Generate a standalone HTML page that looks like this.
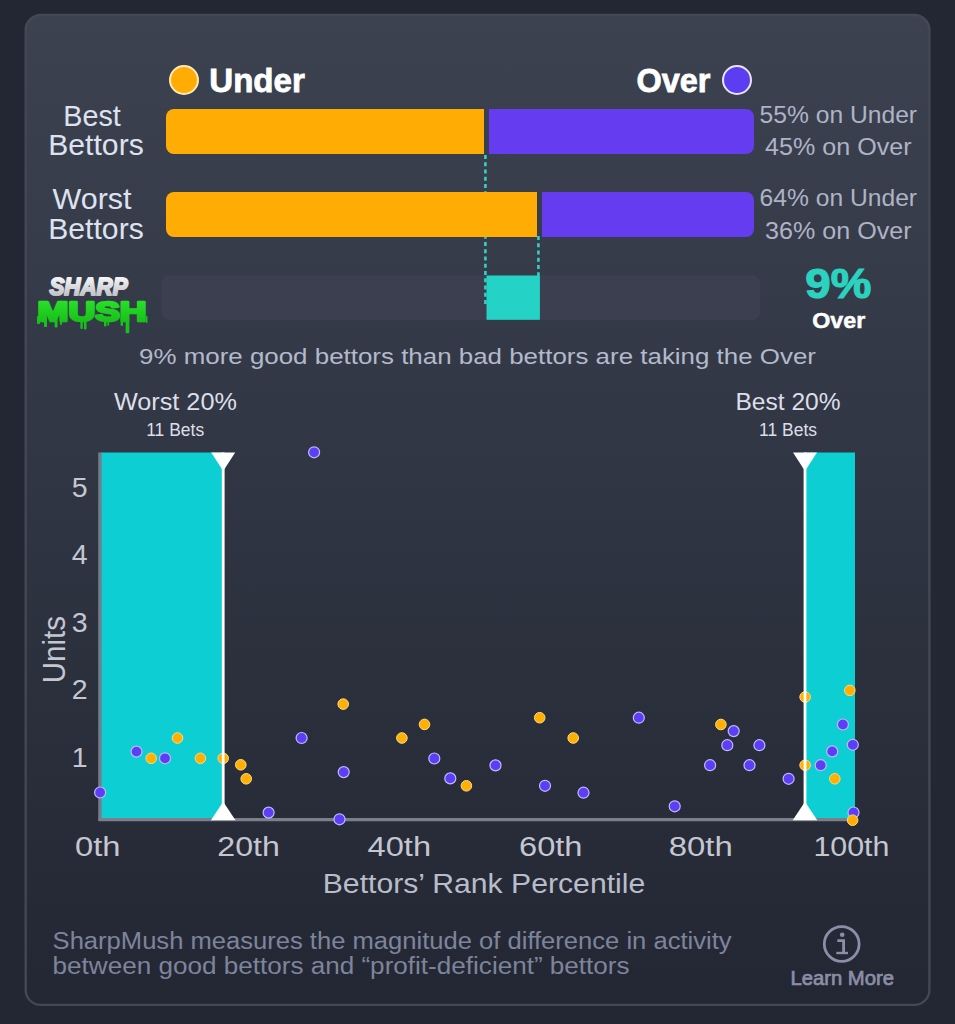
<!DOCTYPE html>
<html><head><meta charset="utf-8"><title>SharpMush</title>
<style>
html,body{margin:0;padding:0;background:#232733;width:955px;height:1024px;overflow:hidden;}
svg{display:block;font-family:"Liberation Sans",sans-serif;}
</style></head>
<body>
<svg width="955" height="1024" viewBox="0 0 955 1024">
<defs>
<linearGradient id="cardbg" x1="0" y1="0" x2="0" y2="1">
  <stop offset="0" stop-color="#3D4251"/>
  <stop offset="0.45" stop-color="#313644"/>
  <stop offset="1" stop-color="#232733"/>
</linearGradient>
<linearGradient id="silver" x1="0" y1="0" x2="0" y2="1">
  <stop offset="0" stop-color="#FFFFFF"/>
  <stop offset="1" stop-color="#B4B6BE"/>
</linearGradient>
<linearGradient id="green" x1="0" y1="0" x2="0" y2="1">
  <stop offset="0" stop-color="#2BE82B"/>
  <stop offset="1" stop-color="#16B818"/>
</linearGradient>
</defs>
<rect x="25.7" y="15" width="903.7" height="989.9" rx="15" ry="15" fill="url(#cardbg)" stroke="#434756" stroke-width="2.4"/>
<circle cx="184" cy="80" r="14" fill="#FFAD05" stroke="#FFEBB8" stroke-width="2"/>
<text x="209.3" y="92" font-size="33" fill="#FFFFFF" text-anchor="start" font-weight="bold" textLength="95.5" lengthAdjust="spacingAndGlyphs" stroke="#FFFFFF" stroke-width="0.8">Under</text>
<text x="710.5" y="92" font-size="33" fill="#FFFFFF" text-anchor="end" font-weight="bold" textLength="74" lengthAdjust="spacingAndGlyphs" stroke="#FFFFFF" stroke-width="0.8">Over</text>
<circle cx="737" cy="80" r="14" fill="#5C3DF2" stroke="#EAE4FF" stroke-width="2"/>
<rect x="161.2" y="275.3" width="599" height="44.6" rx="8" fill="#3B3F50"/>
<line x1="485.4" y1="155" x2="485.4" y2="304" stroke="#36D1BE" stroke-width="2.6" stroke-dasharray="4 3.25"/>
<line x1="538.4" y1="236" x2="538.4" y2="277" stroke="#36D1BE" stroke-width="2.6" stroke-dasharray="4 3.25"/>
<rect x="486.5" y="275.5" width="53.4" height="44.3" fill="#24D3C5"/>
<path d="M174,109 H484 V154 H174 A8,8 0 0 1 166,146 V117 A8,8 0 0 1 174,109 Z" fill="#FFAD05"/><path d="M489,109 H746 A8,8 0 0 1 754,117 V146 A8,8 0 0 1 746,154 H489 Z" fill="#653CF0"/>
<path d="M174,192 H537 V237 H174 A8,8 0 0 1 166,229 V200 A8,8 0 0 1 174,192 Z" fill="#FFAD05"/><path d="M542,192 H746 A8,8 0 0 1 754,200 V229 A8,8 0 0 1 746,237 H542 Z" fill="#653CF0"/>
<text x="92" y="125.8" font-size="29" fill="#DEE2EF" text-anchor="middle" font-weight="normal" textLength="57.5" lengthAdjust="spacingAndGlyphs" >Best</text>
<text x="96" y="155" font-size="29" fill="#DEE2EF" text-anchor="middle" font-weight="normal" textLength="95.5" lengthAdjust="spacingAndGlyphs" >Bettors</text>
<text x="92" y="209" font-size="29" fill="#DEE2EF" text-anchor="middle" font-weight="normal" textLength="79" lengthAdjust="spacingAndGlyphs" >Worst</text>
<text x="96" y="238.6" font-size="29" fill="#DEE2EF" text-anchor="middle" font-weight="normal" textLength="95.5" lengthAdjust="spacingAndGlyphs" >Bettors</text>
<text x="838.3" y="122.7" font-size="23.2" fill="#AEB3C5" text-anchor="middle" font-weight="normal" textLength="157.5" lengthAdjust="spacingAndGlyphs" >55% on Under</text>
<text x="838.3" y="154.9" font-size="23.2" fill="#AEB3C5" text-anchor="middle" font-weight="normal" textLength="146.5" lengthAdjust="spacingAndGlyphs" >45% on Over</text>
<text x="838.3" y="205.9" font-size="23.2" fill="#AEB3C5" text-anchor="middle" font-weight="normal" textLength="157.5" lengthAdjust="spacingAndGlyphs" >64% on Under</text>
<text x="838.3" y="238.5" font-size="23.2" fill="#AEB3C5" text-anchor="middle" font-weight="normal" textLength="146.5" lengthAdjust="spacingAndGlyphs" >36% on Over</text>
<text x="838.3" y="297.5" font-size="42" fill="#2BD2BF" text-anchor="middle" font-weight="bold" textLength="66" lengthAdjust="spacingAndGlyphs" stroke="#2BD2BF" stroke-width="1.2">9%</text>
<text x="838.7" y="328" font-size="22" fill="#FFFFFF" text-anchor="middle" font-weight="bold" textLength="53" lengthAdjust="spacingAndGlyphs" stroke="#FFFFFF" stroke-width="0.5">Over</text>
<text x="49.5" y="295" font-size="23.5" font-weight="bold" font-style="italic" fill="url(#silver)" stroke="url(#silver)" stroke-width="2" stroke-linejoin="round" textLength="78" lengthAdjust="spacingAndGlyphs">SHARP</text>
<rect x="37" y="316" width="3.0" height="8" rx="1" fill="#17C21A"/>
<rect x="44" y="316" width="3.0" height="11" rx="1" fill="#17C21A"/>
<rect x="54.6" y="316" width="2.8999999999999986" height="11.399999999999977" rx="1" fill="#17C21A"/>
<rect x="60" y="316" width="2.0" height="9" rx="1" fill="#17C21A"/>
<rect x="80.4" y="316" width="2.3999999999999915" height="13" rx="1" fill="#17C21A"/>
<rect x="84" y="316" width="2.5" height="13.600000000000023" rx="1" fill="#17C21A"/>
<rect x="104" y="316" width="2.5" height="10.399999999999977" rx="1" fill="#17C21A"/>
<rect x="107.4" y="316" width="1.6999999999999886" height="9.800000000000011" rx="1" fill="#17C21A"/>
<rect x="120.6" y="316" width="2.4000000000000057" height="10" rx="1" fill="#17C21A"/>
<rect x="125.6" y="316" width="3.700000000000017" height="17.30000000000001" rx="1" fill="#17C21A"/>
<rect x="145.7" y="316" width="1.8000000000000114" height="7" rx="1" fill="#17C21A"/>
<text x="37.6" y="320.6" font-size="27.8" font-weight="bold" fill="url(#green)" stroke="url(#green)" stroke-width="2.6" stroke-linejoin="round" textLength="109" lengthAdjust="spacingAndGlyphs">MUSH</text>
<text x="477.5" y="364" font-size="22" fill="#B3BACB" text-anchor="middle" font-weight="normal" textLength="677" lengthAdjust="spacingAndGlyphs" >9% more good bettors than bad bettors are taking the Over</text>
<text x="175.4" y="410.4" font-size="23" fill="#DCDFE8" text-anchor="middle" font-weight="normal" textLength="123" lengthAdjust="spacingAndGlyphs" >Worst 20%</text>
<text x="175.2" y="435.7" font-size="18" fill="#DCDFE8" text-anchor="middle" font-weight="normal" textLength="58" lengthAdjust="spacingAndGlyphs" >11 Bets</text>
<text x="788" y="410.4" font-size="23" fill="#DCDFE8" text-anchor="middle" font-weight="normal" textLength="105" lengthAdjust="spacingAndGlyphs" >Best 20%</text>
<text x="788" y="435.7" font-size="18" fill="#DCDFE8" text-anchor="middle" font-weight="normal" textLength="58" lengthAdjust="spacingAndGlyphs" >11 Bets</text>
<rect x="101" y="452.5" width="122.5" height="367" fill="#0DCED2"/>
<rect x="805" y="452.5" width="50" height="367" fill="#0DCED2"/>
<line x1="99.9" y1="452.5" x2="99.9" y2="820" stroke="#767B88" stroke-width="3.4"/>
<line x1="98.25" y1="819.6" x2="855" y2="819.6" stroke="#7A7F8A" stroke-width="3.4"/>
<circle cx="100.1" cy="792.5" r="5.5" fill="#5B3EF6" stroke="#C2BAFF" stroke-width="1.2"/>
<circle cx="136.5" cy="751.6" r="5.5" fill="#5B3EF6" stroke="#C2BAFF" stroke-width="1.2"/>
<circle cx="151.2" cy="758.3" r="5.3" fill="#FFB000" stroke="#FFD98A" stroke-width="1"/>
<circle cx="165.0" cy="758.3" r="5.5" fill="#5B3EF6" stroke="#C2BAFF" stroke-width="1.2"/>
<circle cx="177.5" cy="738.0" r="5.3" fill="#FFB000" stroke="#FFD98A" stroke-width="1"/>
<circle cx="200.4" cy="758.3" r="5.3" fill="#FFB000" stroke="#FFD98A" stroke-width="1"/>
<circle cx="223.2" cy="758.3" r="5.3" fill="#FFB000" stroke="#FFD98A" stroke-width="1"/>
<circle cx="240.8" cy="764.8" r="5.3" fill="#FFB000" stroke="#FFD98A" stroke-width="1"/>
<circle cx="246.2" cy="778.8" r="5.3" fill="#FFB000" stroke="#FFD98A" stroke-width="1"/>
<circle cx="268.6" cy="812.6" r="5.5" fill="#5B3EF6" stroke="#C2BAFF" stroke-width="1.2"/>
<circle cx="343.2" cy="704.1" r="5.3" fill="#FFB000" stroke="#FFD98A" stroke-width="1"/>
<circle cx="301.6" cy="738.0" r="5.5" fill="#5B3EF6" stroke="#C2BAFF" stroke-width="1.2"/>
<circle cx="424.5" cy="724.4" r="5.3" fill="#FFB000" stroke="#FFD98A" stroke-width="1"/>
<circle cx="401.9" cy="738.0" r="5.3" fill="#FFB000" stroke="#FFD98A" stroke-width="1"/>
<circle cx="434.3" cy="758.5" r="5.5" fill="#5B3EF6" stroke="#C2BAFF" stroke-width="1.2"/>
<circle cx="343.7" cy="772.1" r="5.5" fill="#5B3EF6" stroke="#C2BAFF" stroke-width="1.2"/>
<circle cx="450.3" cy="778.4" r="5.5" fill="#5B3EF6" stroke="#C2BAFF" stroke-width="1.2"/>
<circle cx="466.4" cy="785.8" r="5.3" fill="#FFB000" stroke="#FFD98A" stroke-width="1"/>
<circle cx="339.5" cy="819.3" r="5.5" fill="#5B3EF6" stroke="#C2BAFF" stroke-width="1.2"/>
<circle cx="314.1" cy="452.3" r="5.5" fill="#5B3EF6" stroke="#C2BAFF" stroke-width="1.2"/>
<circle cx="539.7" cy="717.7" r="5.3" fill="#FFB000" stroke="#FFD98A" stroke-width="1"/>
<circle cx="573.2" cy="738.0" r="5.3" fill="#FFB000" stroke="#FFD98A" stroke-width="1"/>
<circle cx="638.8" cy="717.7" r="5.5" fill="#5B3EF6" stroke="#C2BAFF" stroke-width="1.2"/>
<circle cx="495.5" cy="765.4" r="5.5" fill="#5B3EF6" stroke="#C2BAFF" stroke-width="1.2"/>
<circle cx="545.0" cy="785.8" r="5.5" fill="#5B3EF6" stroke="#C2BAFF" stroke-width="1.2"/>
<circle cx="583.5" cy="792.7" r="5.5" fill="#5B3EF6" stroke="#C2BAFF" stroke-width="1.2"/>
<circle cx="674.7" cy="806.3" r="5.5" fill="#5B3EF6" stroke="#C2BAFF" stroke-width="1.2"/>
<circle cx="720.9" cy="724.5" r="5.3" fill="#FFB000" stroke="#FFD98A" stroke-width="1"/>
<circle cx="733.7" cy="731.1" r="5.5" fill="#5B3EF6" stroke="#C2BAFF" stroke-width="1.2"/>
<circle cx="727.3" cy="745.2" r="5.5" fill="#5B3EF6" stroke="#C2BAFF" stroke-width="1.2"/>
<circle cx="759.4" cy="745.2" r="5.5" fill="#5B3EF6" stroke="#C2BAFF" stroke-width="1.2"/>
<circle cx="710.1" cy="765.2" r="5.5" fill="#5B3EF6" stroke="#C2BAFF" stroke-width="1.2"/>
<circle cx="749.5" cy="765.2" r="5.5" fill="#5B3EF6" stroke="#C2BAFF" stroke-width="1.2"/>
<circle cx="788.6" cy="778.8" r="5.5" fill="#5B3EF6" stroke="#C2BAFF" stroke-width="1.2"/>
<circle cx="805.1" cy="697.0" r="5.3" fill="#FFB000" stroke="#FFD98A" stroke-width="1"/>
<circle cx="805.1" cy="765.2" r="5.3" fill="#FFB000" stroke="#FFD98A" stroke-width="1"/>
<circle cx="849.8" cy="690.4" r="5.3" fill="#FFB000" stroke="#FFD98A" stroke-width="1"/>
<circle cx="842.9" cy="724.5" r="5.5" fill="#5B3EF6" stroke="#C2BAFF" stroke-width="1.2"/>
<circle cx="852.8" cy="744.8" r="5.5" fill="#5B3EF6" stroke="#C2BAFF" stroke-width="1.2"/>
<circle cx="832.2" cy="751.4" r="5.5" fill="#5B3EF6" stroke="#C2BAFF" stroke-width="1.2"/>
<circle cx="820.7" cy="765.2" r="5.5" fill="#5B3EF6" stroke="#C2BAFF" stroke-width="1.2"/>
<circle cx="834.8" cy="778.8" r="5.3" fill="#FFB000" stroke="#FFD98A" stroke-width="1"/>
<circle cx="853.5" cy="812.5" r="5.5" fill="#5B3EF6" stroke="#C2BAFF" stroke-width="1.2"/>
<circle cx="852.6" cy="820.2" r="5.3" fill="#FFB000" stroke="#FFD98A" stroke-width="1"/>
<rect x="221.79999999999998" y="452.5" width="2.8" height="367" fill="#FFFFFF"/>
<path d="M211.2,452.5 H235.2 L223.2,471 Z" fill="#FFFFFF"/>
<path d="M210.89999999999998,820.2 H235.5 L223.2,801.8 Z" fill="#FFFFFF"/>
<rect x="803.6" y="452.5" width="2.8" height="367" fill="#FFFFFF"/>
<path d="M793.0,452.5 H817.0 L805.0,471 Z" fill="#FFFFFF"/>
<path d="M792.7,820.2 H817.3 L805.0,801.8 Z" fill="#FFFFFF"/>
<text x="87.6" y="766.8" font-size="28.5" fill="#C4C7D1" text-anchor="end" font-weight="normal" >1</text>
<text x="87.6" y="699.2" font-size="28.5" fill="#C4C7D1" text-anchor="end" font-weight="normal" >2</text>
<text x="87.6" y="631.7" font-size="28.5" fill="#C4C7D1" text-anchor="end" font-weight="normal" >3</text>
<text x="87.6" y="564.1" font-size="28.5" fill="#C4C7D1" text-anchor="end" font-weight="normal" >4</text>
<text x="87.6" y="496.5" font-size="28.5" fill="#C4C7D1" text-anchor="end" font-weight="normal" >5</text>
<text x="0" y="0" font-size="30.5" fill="#C4C7D1" text-anchor="middle" transform="translate(64.5,649.6) rotate(-90)" textLength="67.5" lengthAdjust="spacingAndGlyphs">Units</text>
<text x="97.8" y="856.3" font-size="27" fill="#C4C7D1" text-anchor="middle" font-weight="normal" textLength="45.5" lengthAdjust="spacingAndGlyphs" >0th</text>
<text x="248.55" y="856.3" font-size="27" fill="#C4C7D1" text-anchor="middle" font-weight="normal" textLength="62.5" lengthAdjust="spacingAndGlyphs" >20th</text>
<text x="399.35" y="856.3" font-size="27" fill="#C4C7D1" text-anchor="middle" font-weight="normal" textLength="63.5" lengthAdjust="spacingAndGlyphs" >40th</text>
<text x="550.75" y="856.3" font-size="27" fill="#C4C7D1" text-anchor="middle" font-weight="normal" textLength="63.5" lengthAdjust="spacingAndGlyphs" >60th</text>
<text x="700.8" y="856.3" font-size="27" fill="#C4C7D1" text-anchor="middle" font-weight="normal" textLength="64" lengthAdjust="spacingAndGlyphs" >80th</text>
<text x="851.4" y="856.3" font-size="27" fill="#C4C7D1" text-anchor="middle" font-weight="normal" textLength="76" lengthAdjust="spacingAndGlyphs" >100th</text>
<text x="484" y="892.8" font-size="27.5" fill="#B9BDC9" text-anchor="middle" font-weight="normal" textLength="322.5" lengthAdjust="spacingAndGlyphs" >Bettors’ Rank Percentile</text>
<text x="52.6" y="949.3" font-size="23" fill="#7D849B" text-anchor="start" font-weight="normal" textLength="679" lengthAdjust="spacingAndGlyphs" >SharpMush measures the magnitude of difference in activity</text>
<text x="52.6" y="974" font-size="23" fill="#7D849B" text-anchor="start" font-weight="normal" textLength="577" lengthAdjust="spacingAndGlyphs" >between good bettors and “profit-deficient” bettors</text>
<circle cx="841.7" cy="944" r="17.4" fill="none" stroke="#8A8EA6" stroke-width="2.8"/>
<circle cx="842.2" cy="934.8" r="2.3" fill="#8A8EA6"/>
<path d="M837.3,940.6 H843.6 V952.2" fill="none" stroke="#8A8EA6" stroke-width="2.8" stroke-linejoin="miter"/>
<path d="M836.3,953 H848" fill="none" stroke="#8A8EA6" stroke-width="2.4"/>
<text x="842.2" y="984.9" font-size="19.5" fill="#8A8EA6" text-anchor="middle" font-weight="normal" textLength="103.5" lengthAdjust="spacingAndGlyphs" stroke="#8A8EA6" stroke-width="0.7">Learn More</text>
</svg>
</body></html>
